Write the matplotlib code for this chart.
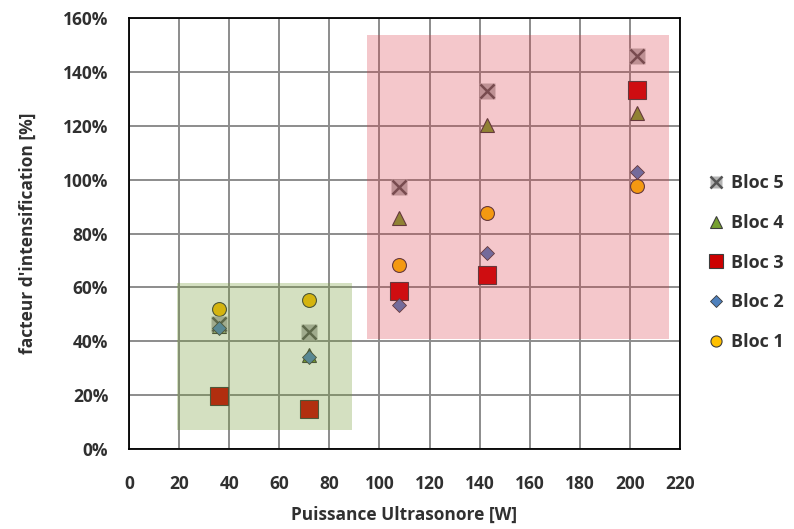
import numpy as np
import matplotlib.pyplot as plt
from matplotlib.patches import Rectangle
from matplotlib.legend_handler import HandlerTuple
from matplotlib.ticker import FuncFormatter

plt.rcParams['font.family'] = ['Open Sans', 'DejaVu Sans']
plt.rcParams['font.weight'] = 'bold'

# puissance ultrasonore [W]
power = [36, 72, 108, 143, 203]

# facteur d'intensification [%] par bloc
bloc1 = [52, 55.3, 68.3, 87.5, 97.6]
bloc2 = [44.9, 34, 53.5, 72.9, 102.9]
bloc3 = [19.7, 14.7, 58.6, 64.6, 133.3]
bloc4 = [45.5, 34.8, 85.6, 120.2, 124.6]
bloc5 = [46.5, 43.3, 97.1, 132.9, 145.9]

# zones mises en evidence (x0, x1, y0, y1)
zone_low = (19, 89, 7, 61.7)
zone_high = (95.2, 215.6, 40.7, 153.7)

fig = plt.figure(figsize=(7.94, 5.29), dpi=100)
ax = fig.add_axes([0.1625, 0.1512, 0.6939, 0.8148])

edge = '#3c3c3c'
# Bloc 1 .. 4
h1, = ax.plot(power, bloc1, 'o', ms=10, mfc='#ffc000', mec=edge, mew=0.8, zorder=3)
h2, = ax.plot(power, bloc2, 'D', ms=7.5, mfc='#4f81bd', mec=edge, mew=0.6, zorder=4)
h3, = ax.plot(power, bloc3, 's', ms=12.5, mfc='#cc0000', mec=edge, mew=0.8, zorder=3)
h4, = ax.plot(power, bloc4, '^', ms=10, mfc='#76a030', mec=edge, mew=0.8, zorder=3)
# Bloc 5 : croix sur fond gris
h5a, = ax.plot(power, bloc5, 's', ms=11, mfc='#b4b4b4', mec='none', zorder=3)
h5b, = ax.plot(power, bloc5, 'x', ms=10, mec='#555555', mew=1.8, zorder=3)

# zones transparentes par-dessus les points
ax.add_patch(Rectangle((zone_low[0], zone_low[2]), zone_low[1] - zone_low[0],
                       zone_low[3] - zone_low[2], facecolor=(0.45, 0.6, 0.2),
                       alpha=0.3, edgecolor='none', zorder=5))
ax.add_patch(Rectangle((zone_high[0], zone_high[2]), zone_high[1] - zone_high[0],
                       zone_high[3] - zone_high[2], facecolor=(0.85, 0.2, 0.25),
                       alpha=0.27, edgecolor='none', zorder=5))

ax.set_xlim(0, 220)
ax.set_ylim(0, 160)
ax.set_xticks(np.arange(0, 221, 20))
ax.set_yticks(np.arange(0, 161, 20))
ax.yaxis.set_major_formatter(FuncFormatter(lambda v, p: '%d%%' % v))
ax.grid(True, color='#8c8c8c', linewidth=1.4)
ax.set_axisbelow(True)
ax.tick_params(length=0, labelsize=12.5)
ax.tick_params(axis='x', pad=19)
ax.tick_params(axis='y', pad=15)
for lab in ax.get_xticklabels() + ax.get_yticklabels():
    lab.set_fontweight('bold')
    lab.set_color('#303030')
for s in ax.spines.values():
    s.set_color('black')
    s.set_linewidth(1.3)

ax.set_xlabel('Puissance Ultrasonore [W]', fontsize=12.5, fontweight='bold',
              color='#303030', labelpad=9)
ax.set_ylabel("facteur d'intensification [%]", fontsize=12.5, fontweight='bold',
              color='#303030', labelpad=19)

leg = ax.legend([(h5a, h5b), h4, h3, h2, h1],
                ['Bloc 5', 'Bloc 4', 'Bloc 3', 'Bloc 2', 'Bloc 1'],
                handler_map={tuple: HandlerTuple(ndivide=1, pad=0)},
                loc='center left', bbox_to_anchor=(1.02, 0.432), frameon=False,
                fontsize=13, labelspacing=1.2, handlelength=1.0,
                handletextpad=0.3, markerscale=0.8)
for t in leg.get_texts():
    t.set_fontweight('bold')
    t.set_color('#303030')

fig.savefig('out.png', dpi=100)
